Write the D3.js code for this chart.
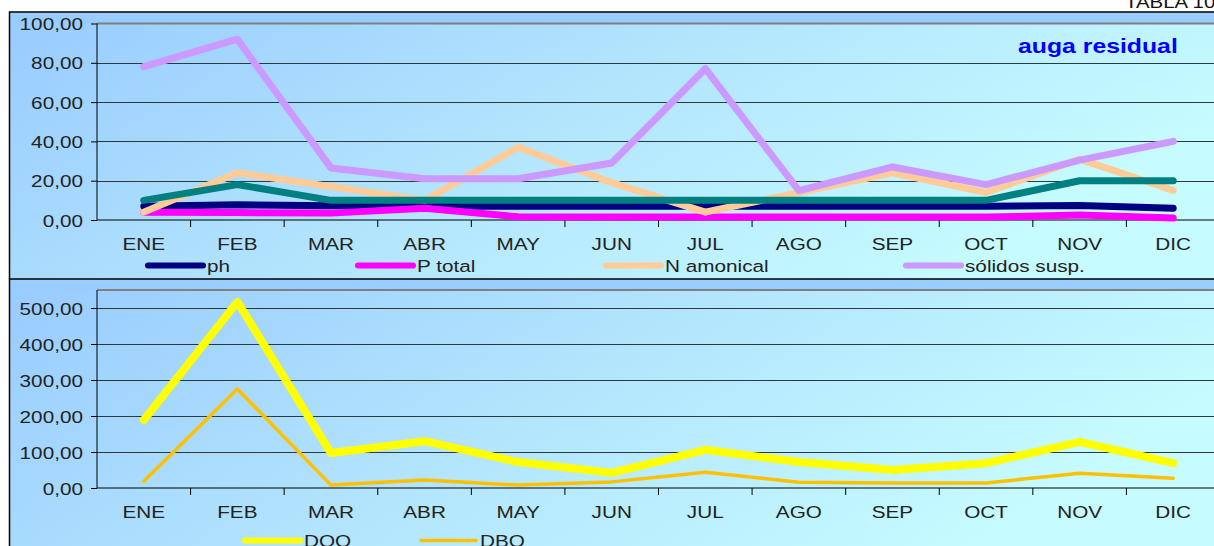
<!DOCTYPE html>
<html>
<head>
<meta charset="utf-8">
<script src="https://cdn.jsdelivr.net/npm/d3@7"></script>
<style>
  body { margin: 0; background: #fff; }
  text { font-family: Arial, "Liberation Sans", sans-serif; fill: #222; }
</style>
</head>
<body>
<svg id="chart" width="1214" height="546"></svg>
<script>
const months = ['ENE', 'FEB', 'MAR', 'ABR', 'MAY', 'JUN', 'JUL', 'AGO', 'SEP', 'OCT', 'NOV', 'DIC']

// top panel
const ph = [7, 7.8, 7.2, 7, 7, 7, 7, 7, 7, 7, 7.4, 6]
const pTotal = [4, 3.8, 3.5, 6, 1.6, 1.5, 1.5, 1.5, 1.5, 1.5, 2.5, 1]
const nAmonical = [4, 24, 17, 10, 37, 19, 4, 14, 24, 14, 31, 15]
const solidos = [78, 92, 26.5, 21, 21, 29, 77, 15, 27, 18, 30.5, 40]
const temperatura = [10, 18, 10, 10, 10, 10, 10, 10, 10, 10, 20, 20] // legend entry cut off in the original
const topTicks = [0, 20, 40, 60, 80, 100]

// bottom panel
const dqo = [189, 517, 97, 130, 72, 42, 106, 72, 50, 69, 128, 69]
const dbo = [19, 275, 8, 22, 8, 17, 44, 16, 14, 14, 41, 27]
const bottomTicks = [0, 100, 200, 300, 400, 500]

const STRETCH = 1.22 // the original text is drawn horizontally stretched
const fmt = d => d3.format('.2f')(d).replace('.', ',')

const svg = d3.select('#chart')

const defs = svg.append('defs')
const grad = defs.append('linearGradient')
    .attr('id', 'bg').attr('x1', 0).attr('y1', 0).attr('x2', 1).attr('y2', 0.35)
grad.append('stop').attr('offset', 0).attr('stop-color', '#99ccff')
grad.append('stop').attr('offset', 0.5).attr('stop-color', '#b2e4fd')
grad.append('stop').attr('offset', 1).attr('stop-color', '#c6fbff')

const x = d3.scaleBand().domain(months).range([97, 1220])

function stretchedText(g, tx, ty, str, opts = {}) {
    return g.append('text')
        .attr('transform', `translate(${tx},${ty}) scale(${opts.stretch || STRETCH},1)`)
        .attr('text-anchor', opts.anchor || 'start')
        .style('font-size', (opts.size || 17) + 'px')
        .style('font-weight', opts.weight || 'normal')
        .style('fill', opts.color || '#222')
        .text(str)
}

function panel(cfg) {
    const {top, bottom, plotTop, plotBottom, yMax, ticks, series, legend, legendY} = cfg
    const g = svg.append('g')

    // chart area + plot area background
    g.append('rect').attr('x', 9).attr('y', top).attr('width', 1220).attr('height', bottom - top)
        .attr('fill', '#99ccff')
    g.append('rect').attr('x', 10).attr('y', plotTop).attr('width', 1220).attr('height', bottom - plotTop)
        .attr('fill', 'url(#bg)')

    const y = d3.scaleLinear().domain([0, yMax]).range([plotBottom, plotTop])

    // gridlines
    g.append('g').selectAll('line').data(ticks.filter(t => t > 0 && t < yMax))
        .join('line')
        .attr('x1', 97).attr('x2', 1220)
        .attr('y1', d => Math.round(y(d)) + 0.5).attr('y2', d => Math.round(y(d)) + 0.5)
        .attr('stroke', '#2c3a40').attr('stroke-width', 1.2)
    g.append('line').attr('x1', 97).attr('x2', 1220)
        .attr('y1', plotTop).attr('y2', plotTop)
        .attr('stroke', '#808080').attr('stroke-width', 2)

    // y axis
    const yAxis = g.append('g').attr('transform', 'translate(97,0)')
        .call(d3.axisLeft(y).tickValues(ticks).tickSize(6).tickFormat(fmt))
    yAxis.select('.domain').attr('stroke', '#000').attr('d', `M0,${plotTop}V${plotBottom}`)
    yAxis.selectAll('.tick line').attr('stroke', '#000')
    yAxis.selectAll('.tick text')
        .attr('x', null).attr('dy', '0.36em')
        .attr('transform', `translate(-14,0) scale(${STRETCH},1)`)
        .style('font-size', '17px').style('font-family', 'Arial, "Liberation Sans", sans-serif')
        .attr('fill', '#222')

    // x axis: labels centred on bands, ticks at band boundaries
    const xAxis = g.append('g').attr('transform', `translate(0,${plotBottom})`)
        .call(d3.axisBottom(x).tickSize(0).tickPadding(0))
    xAxis.select('.domain').attr('stroke', '#000').attr('d', 'M97,0H1220')
    xAxis.selectAll('.tick text')
        .attr('y', null).attr('dy', null)
        .attr('transform', `translate(0,30) scale(${STRETCH},1)`)
        .style('font-size', '17px').style('font-family', 'Arial, "Liberation Sans", sans-serif')
        .attr('fill', '#222')
    xAxis.selectAll('.bound').data(months.slice(1))
        .join('line').attr('class', 'bound')
        .attr('x1', d => x(d)).attr('x2', d => x(d))
        .attr('y1', 0).attr('y2', 7).attr('stroke', '#000')

    // series
    const line = d3.line().x((d, i) => x(months[i]) + x.bandwidth() / 2).y(d => y(d))
    g.append('g').selectAll('path').data(series).join('path')
        .attr('d', s => line(s.values))
        .attr('fill', 'none')
        .attr('stroke', s => s.color)
        .attr('stroke-width', s => s.width)
        .attr('stroke-linejoin', 'round').attr('stroke-linecap', 'round')

    // legend
    const lg = g.append('g')
    legend.forEach(item => {
        const s = series.find(d => d.name === item.name)
        lg.append('line').attr('x1', item.x).attr('x2', item.x + 55)
            .attr('y1', legendY).attr('y2', legendY)
            .attr('stroke', s.color).attr('stroke-width', Math.min(s.width, 6))
            .attr('stroke-linecap', 'round')
        stretchedText(lg, item.x + 59, legendY + 6, s.name)
    })

    // border
    g.append('path').attr('d', `M9.5,${bottom}V${top}H1220`)
        .attr('fill', 'none').attr('stroke', '#000').attr('stroke-width', 1.5)

    return g
}

panel({
    top: 12, bottom: 279, plotTop: 23.5, plotBottom: 220, yMax: 100, ticks: topTicks,
    series: [
        {name: 'ph', values: ph, color: '#000080', width: 7},
        {name: 'P total', values: pTotal, color: '#ff00ff', width: 7},
        {name: 'N amonical', values: nAmonical, color: '#ffcc99', width: 7},
        {name: 'sólidos susp.', values: solidos, color: '#cc99ff', width: 7},
        {name: 'temperatura', values: temperatura, color: '#008080', width: 7},
    ],
    legendY: 265.5,
    legend: [{name: 'ph', x: 148}, {name: 'P total', x: 358}, {name: 'N amonical', x: 606}, {name: 'sólidos susp.', x: 906}],
})

panel({
    top: 279, bottom: 560, plotTop: 290, plotBottom: 488, yMax: 550, ticks: bottomTicks,
    series: [
        {name: 'DQO', values: dqo, color: '#ffff00', width: 8},
        {name: 'DBO', values: dbo, color: '#ffc000', width: 3.5},
    ],
    legendY: 540.5,
    legend: [{name: 'DQO', x: 245}, {name: 'DBO', x: 421}],
})

// title
stretchedText(svg, 1018, 53, 'auga residual', {size: 20, weight: 'bold', color: '#0000ff', stretch: 1.24})
stretchedText(svg, 1125, 7.5, 'TABLA 10', {size: 17, color: '#111', stretch: 1.2})
</script>
</body>
</html>
